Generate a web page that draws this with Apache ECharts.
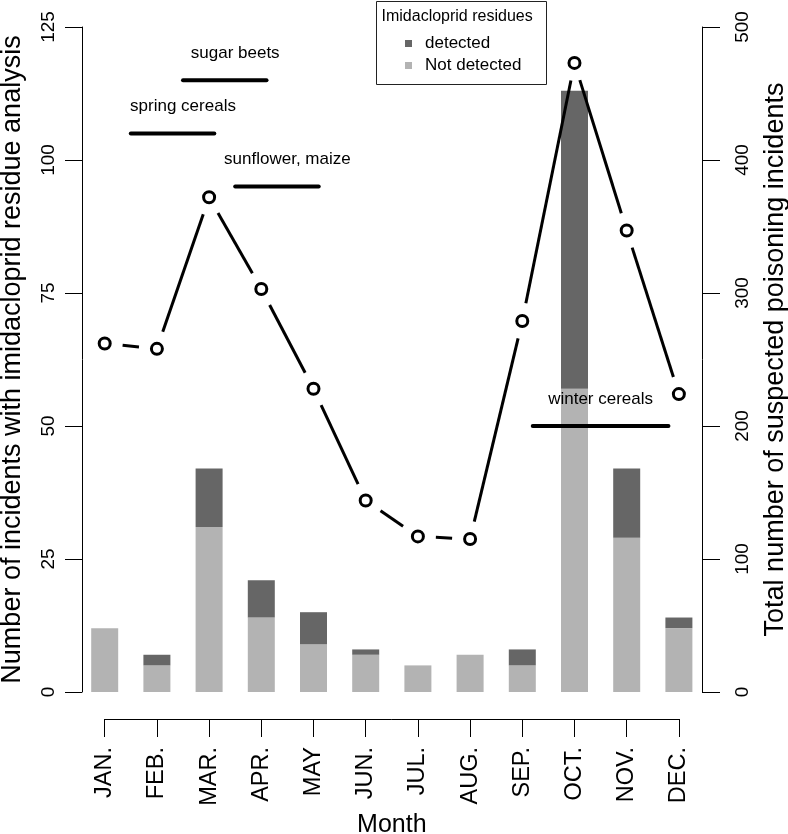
<!DOCTYPE html>
<html><head><meta charset="utf-8">
<script src="https://cdn.jsdelivr.net/npm/echarts@6/dist/echarts.min.js"></script>
<style>html,body{margin:0;padding:0;background:#fff}#c{width:788px;height:834px}</style>
</head><body><div id="c"></div>
<script>
const months = ['JAN.','FEB.','MAR.','APR.','MAY','JUN.','JUL.','AUG.','SEP.','OCT.','NOV.','DEC.'];
const notDetected = [12,5,31,14,9,7,5,7,5,57,29,12];
const detected = [0,2,11,7,6,1,0,0,3,56,13,2];
const totalIncidents = [262,258,372,303,228,144,117,115,279,473,347,224];
const leftTicks = [0,25,50,75,100,125];
const rightTicks = [0,100,200,300,400,500];
const cropNames = ['spring cereals','sugar beets','sunflower, maize','winter cereals'];
const cropStart = [0.5,1.5,2.5,8.2];
const cropEnd = [2.1,3.1,4.1,10.8];
const cropLevel = [105,115,95,50];
const cropLabelX = [1.5,2.5,3.5,9.5];

const FONT = 'Liberation Sans';
const chart = echarts.init(document.getElementById('c'), null, {renderer:'canvas'});
const idx = months.map((m,i)=>i);
const leftMax = leftTicks[leftTicks.length-1];

const option = {
  animation:false,
  backgroundColor:'#fff',
  textStyle:{fontFamily:FONT, color:'#000'},
  grid:[
    {left:82, right:86, top:27, bottom:142, outerBoundsMode:'none', containLabel:false},
    {left:104.7, right:109.1, top:718, height:1, outerBoundsMode:'none', containLabel:false},
    {left:78.6, right:83, top:27, bottom:142, outerBoundsMode:'none', containLabel:false}
  ],
  xAxis:[
    {gridIndex:0, type:'value', min:-0.435, max:11.443, show:false, axisLine:{onZero:false}},
    {gridIndex:1, type:'category', data:months, boundaryGap:false, position:'bottom',
     axisLine:{show:true, onZero:false, lineStyle:{color:'#000', width:1}},
     axisTick:{show:true, length:18, interval:0, lineStyle:{color:'#000', width:1}},
     axisLabel:{rotate:90, interval:0, fontSize:23.5, margin:28, color:'#000', fontFamily:FONT},
     name:'Month', nameLocation:'middle', nameGap:94,
     nameTextStyle:{fontSize:25, color:'#000', fontFamily:FONT}},
    {gridIndex:2, type:'category', data:months, show:false, axisLine:{onZero:false}}
  ],
  yAxis:[
    {gridIndex:0, type:'value', position:'left', min:leftTicks[0], max:leftMax, interval:leftTicks[1]-leftTicks[0],
     axisLine:{show:true, onZero:false, lineStyle:{color:'#000', width:1}},
     axisTick:{show:true, length:17, lineStyle:{color:'#000', width:1}},
     splitLine:{show:false},
     axisLabel:{rotate:90, fontSize:19, margin:24, color:'#000', fontFamily:FONT},
     name:'Number of incidents with imidacloprid residue analysis', nameLocation:'middle', nameRotate:90, nameGap:56,
     nameTextStyle:{fontSize:27, color:'#000', fontFamily:FONT}},
    {gridIndex:0, type:'value', position:'right', min:rightTicks[0], max:rightTicks[rightTicks.length-1], interval:rightTicks[1]-rightTicks[0],
     axisLine:{show:true, onZero:false, lineStyle:{color:'#000', width:1}},
     axisTick:{show:true, length:18, lineStyle:{color:'#000', width:1}},
     splitLine:{show:false},
     axisLabel:{rotate:90, fontSize:19, margin:31, color:'#000', fontFamily:FONT},
     name:'Total number of suspected poisoning incidents', nameLocation:'middle', nameRotate:90, nameGap:60,
     nameTextStyle:{fontSize:27, color:'#000', fontFamily:FONT}},
    {gridIndex:1, type:'value', show:false},
    {gridIndex:2, type:'value', min:leftTicks[0], max:leftMax, show:false}
  ],
  legend:{
    data:['detected','Not detected'], orient:'vertical', left:405, top:35, padding:0,
    itemWidth:7, itemHeight:7, itemGap:5, icon:'rect',
    textStyle:{fontSize:17, color:'#000', fontFamily:FONT, padding:[0,0,0,8]}
  },
  graphic:[
    {type:'rect', shape:{x:376.5, y:1.5, width:170, height:83}, style:{fill:'none', stroke:'#222', lineWidth:1}, z:100},
    {type:'text', x:381.5, y:17, style:{text:'Imidacloprid residues', font:'16px "Liberation Sans"', fill:'#000', verticalAlign:'middle'}, z:100}
  ],
  series:[
    {name:'Not detected', type:'bar', xAxisIndex:2, yAxisIndex:3, stack:'res', barWidth:27,
     itemStyle:{color:'#b3b3b3'}, data:notDetected, z:2},
    {name:'detected', type:'bar', xAxisIndex:2, yAxisIndex:3, stack:'res', barWidth:27,
     itemStyle:{color:'#666666'}, data:detected, z:2},
    {name:'segments', type:'custom', xAxisIndex:0, yAxisIndex:1, z:5,
     data:totalIncidents.slice(0,-1).map((v,i)=>[idx[i], v, idx[i+1], totalIncidents[i+1]]),
     encode:{x:[0,2], y:[1,3]},
     renderItem:function(params, api){
       const a = api.coord([api.value(0), api.value(1)]);
       const b = api.coord([api.value(2), api.value(3)]);
       const dx=b[0]-a[0], dy=b[1]-a[1];
       const L=Math.hypot(dx,dy), g=18;
       if (L <= 2*g) return null;
       const ux=dx/L, uy=dy/L;
       return {type:'line', shape:{x1:a[0]+ux*g, y1:a[1]+uy*g, x2:b[0]-ux*g, y2:b[1]-uy*g},
               style:{stroke:'#000', lineWidth:3, lineCap:'butt'}};
     }},
    {name:'total', type:'scatter', xAxisIndex:0, yAxisIndex:1, z:6,
     symbol:'circle', symbolSize:11,
     itemStyle:{color:'rgba(255,255,255,0)', borderColor:'#000', borderWidth:3, opacity:1},
     data:totalIncidents.map((v,i)=>[idx[i], v])},
    {name:'crops', type:'custom', xAxisIndex:0, yAxisIndex:0, z:7,
     data:cropNames.map((n,i)=>[cropStart[i], cropEnd[i], cropLevel[i], cropLabelX[i]]),
     encode:{x:[0,1,3], y:[2]},
     renderItem:function(params, api){
       const p1 = api.coord([api.value(0), api.value(2)]);
       const p2 = api.coord([api.value(1), api.value(2)]);
       const pl = api.coord([api.value(3), api.value(2)]);
       return {type:'group', children:[
         {type:'line', shape:{x1:p1[0], y1:p1[1], x2:p2[0], y2:p2[1]}, style:{stroke:'#000', lineWidth:4, lineCap:'round'}},
         {type:'text', x:pl[0], y:pl[1]-27, style:{text:cropNames[params.dataIndex], fill:'#000', font:'17px "Liberation Sans"', align:'center', verticalAlign:'middle'}}
       ]};
     }}
  ]
};
chart.setOption(option);
</script></body></html>
